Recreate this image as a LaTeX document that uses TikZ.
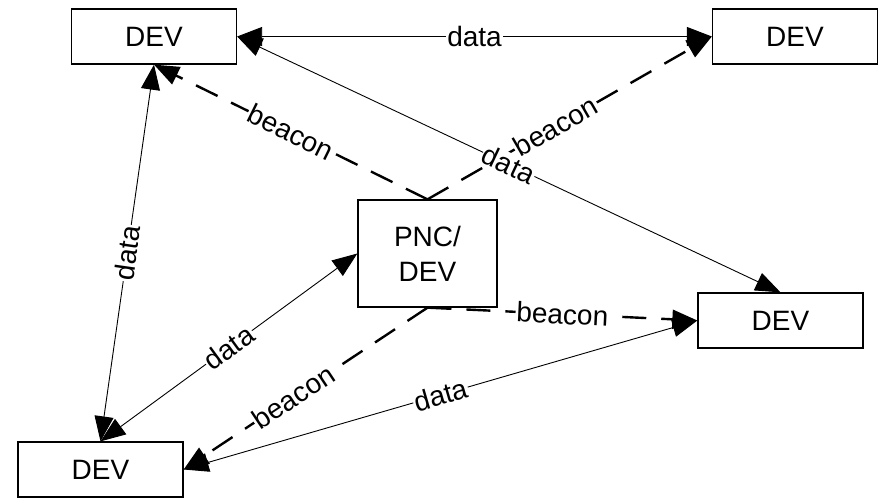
\documentclass[tikz,border=0pt]{standalone}
\usepackage{fontspec}
\setmainfont{Liberation Sans}
\usetikzlibrary{arrows.meta}

\begin{document}
\begin{tikzpicture}[x=1pt, y=-1pt,
  dev/.style={draw, line width=1.3pt, minimum width=165pt, minimum height=55pt,
    inner sep=0pt, align=center, font=\fontsize{28}{35}\selectfont},
  link/.style={line width=0.9pt,
    {Triangle[length=25pt,width=19pt]}-{Triangle[length=25pt,width=19pt]}},
  beacon/.style={line width=2.4pt, dash pattern=on 24pt off 15pt,
    -{Triangle[length=25pt,width=19pt]}},
  lbl/.style={fill=white, inner sep=1pt, sloped, font=\fontsize{28}{30}\selectfont}
]
  \useasboundingbox (0,0) rectangle (879,498);

  % Devices
  \node[dev] (devTL) at (154,36.5) {DEV};
  \node[dev] (devTR) at (795,36.5) {DEV};
  \node[dev, minimum width=139pt, minimum height=107pt] (pnc) at (427.5,253.5) {PNC/\\DEV};
  \node[dev] (devR) at (780.5,320.5) {DEV};
  \node[dev] (devBL) at (100.5,469.5) {DEV};

  % Beacons from the PNC
  \draw[beacon] (pnc.north) -- node[lbl, pos=0.5] {beacon} (devTL.south);
  \draw[beacon] (pnc.north) -- node[lbl, pos=0.45] {beacon} (devTR.west);
  \draw[beacon] (pnc.south) -- node[lbl, pos=0.5] {beacon} (devR.west);
  \draw[beacon] (pnc.south) -- node[lbl, pos=0.55] {beacon} (devBL.east);

  % Data links
  \draw[link] (devTL.east) -- node[lbl] {data} (devTR.west);
  \draw[link] (devTL.east) -- node[lbl] {data} (devR.north);
  \draw[link] (devTL.south) -- node[lbl] {data} (devBL.north);
  \draw[link] (pnc.west) -- node[lbl] {data} (devBL.north);
  \draw[link] (devBL.east) -- node[lbl] {data} (devR.west);

\end{tikzpicture}
\end{document}
